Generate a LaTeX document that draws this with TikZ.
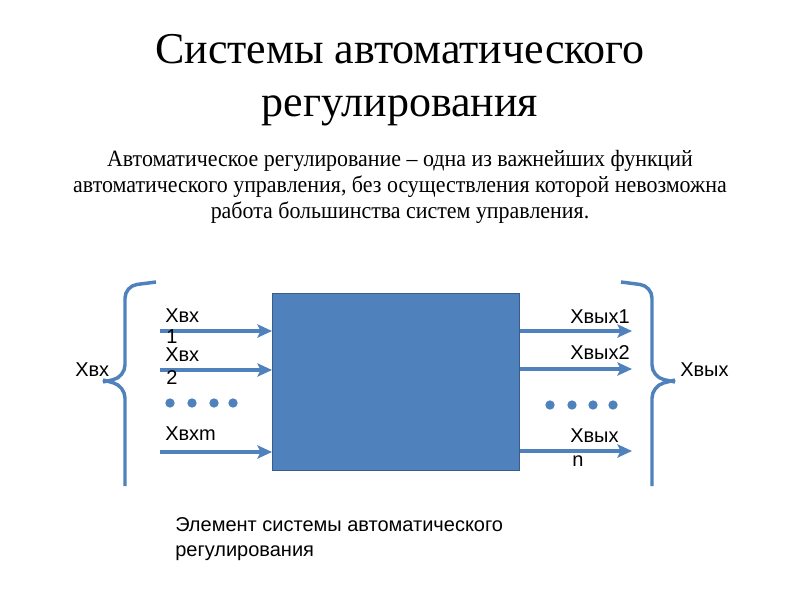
\documentclass[tikz,border=0pt]{standalone}
\usepackage{fontspec}
\setmainfont{Liberation Serif}
\setsansfont{Liberation Sans}
\newfontfamily\condserif[FakeStretch=0.94]{Liberation Serif}
\usetikzlibrary{arrows.meta,positioning,calc}
\definecolor{boxblue}{HTML}{4F81BD}
\definecolor{boxedge}{HTML}{385D8A}
\tikzstyle{block} = [draw=boxedge, fill=boxblue, rectangle, line width=1pt]
\tikzstyle{sig} = [->, draw=boxblue, line width=2.4pt]
\tikzstyle{brace} = [draw=boxblue, line width=2.6pt, rounded corners=9pt]
\tikzstyle{dot} = [fill=boxblue, circle, inner sep=0pt, minimum size=7pt]
\tikzstyle{lbl} = [font=\sffamily\fontsize{15}{17}\selectfont, inner sep=0pt, anchor=base west]

\begin{document}
\begin{tikzpicture}[x=0.75pt, y=-0.75pt, >={Stealth[length=11pt,width=10pt,inset=2.5pt]}]
	\useasboundingbox (0,0) rectangle (800,600);
	% heading and text
	\node [align=center, font=\fontsize{33}{40}\selectfont] (Title) at (400,80) {Системы автоматического\\регулирования};
	\node [align=center, font=\condserif\fontsize{17.5}{19.5}\selectfont] (Text) at (400,187) {Автоматическое регулирование – одна из важнейших функций\\автоматического управления, без осуществления которой невозможна\\работа большинства систем управления.};
	
	% element
	\node [block, minimum width=185.25pt, minimum height=132.75pt, anchor=north west] (Elem) at (272,293) {};
	
	% inputs
	\coordinate (In1) at (160,331);
	\coordinate (In2) at (160,370);
	\coordinate (Inm) at (160,452);
	\draw [sig] (In1) -- (Elem.west |- In1);
	\draw [sig] (In2) -- (Elem.west |- In2);
	\draw [sig] (Inm) -- (Elem.west |- Inm);
	\node [lbl] (LIn1) at (165,322) {Xвх};
	\node [lbl] (LIn1b) at (166,343) {1};
	\node [lbl] (LIn2) at (165,361) {Xвх};
	\node [lbl] (LIn2b) at (166,384) {2};
	\node [lbl] (LInm) at (165,440) {Xвхm};
	\foreach \x in {170,192,214,233}
		\node [dot] at (\x,403) {};
	
	% outputs
	\coordinate (Out1) at (632,331);
	\coordinate (Out2) at (632,369);
	\coordinate (Outn) at (632,451);
	\draw [sig] (Elem.east |- Out1) -- (Out1);
	\draw [sig] (Elem.east |- Out2) -- (Out2);
	\draw [sig] (Elem.east |- Outn) -- (Outn);
	\node [lbl] (LOut1) at (570,323) {Xвых1};
	\node [lbl] (LOut2) at (570,359) {Xвых2};
	\node [lbl] (LOutn) at (570,442) {Xвых};
	\node [lbl] (LOutnb) at (572,466) {n};
	\foreach \x in {550,572,593,613}
		\node [dot] at (\x,405) {};
	
	% braces
	\draw [brace] (156,282) -- (125,286) -- (125,377) -- (103,382);
	\draw [brace] (103,380) -- (125,386) -- (125,486);
	\draw [brace] (621,282) -- (652,286) -- (652,377) -- (675,382);
	\draw [brace] (675,380) -- (652,386) -- (652,486);
	\node [lbl] (LX) at (75,376) {Xвх};
	\node [lbl] (LY) at (680,376) {Xвых};
	
	% caption
	\node [lbl, align=left, anchor=north west, font=\sffamily\fontsize{15}{19}\selectfont] (Caption) at (175,517) {Элемент системы автоматического\\регулирования};
\end{tikzpicture}
\end{document}
